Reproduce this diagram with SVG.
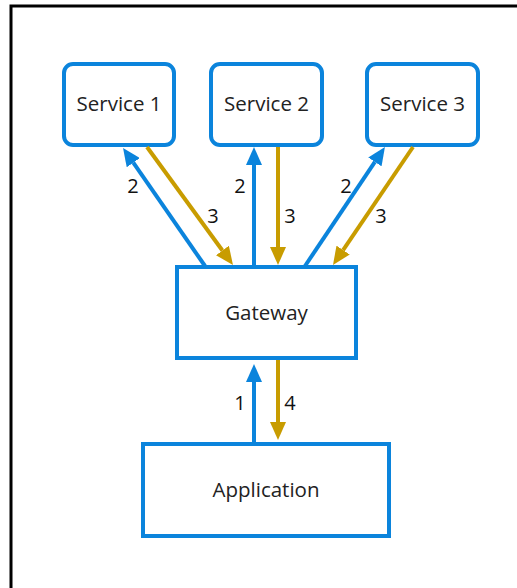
<svg xmlns="http://www.w3.org/2000/svg" width="517" height="588" viewBox="0 0 517 588">
<style>
.node{fill:#fff;stroke:#0b84dc;stroke-width:4}
.lbl{font-family:"Open Sans","Noto Sans",sans-serif;font-size:20.5px;fill:#222;text-anchor:middle}
.num{font-family:"Open Sans","Noto Sans",sans-serif;font-size:20px;fill:#111;text-anchor:middle}
.b{stroke:#0b84dc;stroke-width:4;fill:none;marker-end:url(#ab)}
.g{stroke:#c89c00;stroke-width:4;fill:none;marker-end:url(#ag)}
</style>
<defs>
<marker id="ab" viewBox="0 0 18 16" refX="0" refY="8" markerWidth="18" markerHeight="16" markerUnits="userSpaceOnUse" orient="auto"><path d="M0,0 L18,8 L0,16 z" fill="#0b84dc"/></marker>
<marker id="ag" viewBox="0 0 18 16" refX="0" refY="8" markerWidth="18" markerHeight="16" markerUnits="userSpaceOnUse" orient="auto"><path d="M0,0 L18,8 L0,16 z" fill="#c89c00"/></marker>
</defs>
<rect width="517" height="588" fill="#fff"/>
<path d="M11,588 V6 H517" fill="none" stroke="#000" stroke-width="3"/>
<g id="service1"><rect class="node" x="64" y="64" width="110" height="81" rx="9"/><text class="lbl" x="119" y="111">Service 1</text></g>
<g id="service2"><rect class="node" x="211" y="64" width="111" height="81" rx="9"/><text class="lbl" x="266.5" y="111">Service 2</text></g>
<g id="service3"><rect class="node" x="367" y="64" width="111" height="81" rx="9"/><text class="lbl" x="422.5" y="111">Service 3</text></g>
<g id="gateway"><rect class="node" x="177" y="267" width="179" height="91"/><text class="lbl" x="266.5" y="320">Gateway</text></g>
<g id="application"><rect class="node" x="143" y="444" width="246" height="92"/><text class="lbl" x="266" y="497">Application</text></g>
<g id="connectors">
<line class="b" x1="205" y1="266" x2="133.3" y2="162.7"/>
<line class="g" x1="147" y1="147" x2="222.4" y2="250.5"/>
<line class="b" x1="254" y1="266" x2="254" y2="165"/>
<line class="g" x1="278" y1="147" x2="278" y2="247"/>
<line class="b" x1="305" y1="266" x2="374.9" y2="161.9"/>
<line class="g" x1="413" y1="147" x2="343.1" y2="250.1"/>
<line class="b" x1="254" y1="443" x2="254" y2="382"/>
<line class="g" x1="278" y1="360" x2="278" y2="422"/>
<text class="num" x="133" y="193">2</text>
<text class="num" x="213" y="223">3</text>
<text class="num" x="240" y="193">2</text>
<text class="num" x="290" y="223">3</text>
<text class="num" x="346" y="193">2</text>
<text class="num" x="381" y="223">3</text>
<text class="num" x="240" y="410">1</text>
<text class="num" x="290" y="410">4</text>
</g>
</svg>
